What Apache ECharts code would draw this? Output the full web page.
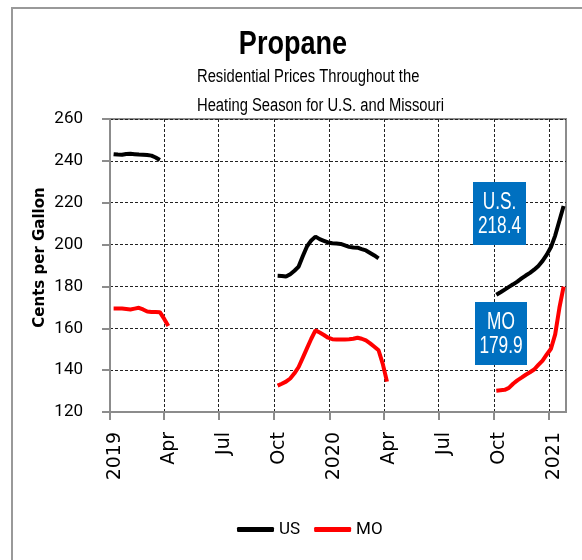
<!DOCTYPE html>
<html>
<head>
<meta charset="utf-8">
<script src="https://cdn.jsdelivr.net/npm/echarts@6/dist/echarts.min.js"></script>
<style>
  html, body { margin: 0; padding: 0; background: #fff; }
  #chart { width: 582px; height: 560px; }
</style>
</head>
<body>
<div id="chart"></div>
<script>
// weekly heating season dates
const season1Dates = ['2019-01-07','2019-01-14','2019-01-21','2019-01-28','2019-02-04','2019-02-11','2019-02-18',
  '2019-02-25','2019-03-04','2019-03-11','2019-03-18','2019-03-25','2019-04-01','2019-04-08']
const season2Dates = ['2019-10-07','2019-10-14','2019-10-21','2019-10-28','2019-11-04','2019-11-11','2019-11-18',
  '2019-11-25','2019-12-02','2019-12-09','2019-12-16','2019-12-23','2019-12-30','2020-01-06','2020-01-13',
  '2020-01-20','2020-01-27','2020-02-03','2020-02-10','2020-02-17','2020-02-24','2020-03-02','2020-03-09',
  '2020-03-16','2020-03-23','2020-03-30','2020-04-06']
const season3Dates = ['2020-10-05','2020-10-12','2020-10-19','2020-10-26','2020-11-02','2020-11-09','2020-11-16',
  '2020-11-23','2020-11-30','2020-12-07','2020-12-14','2020-12-21','2020-12-28','2021-01-04','2021-01-11',
  '2021-01-18','2021-01-25']

// cents per gallon
const usSeason1 = [243.2, 243.0, 242.9, 243.3, 243.4, 243.2, 243.0, 242.9, 242.8, 242.5, 241.6, 240.4]
const moSeason1 = [169.5, 169.5, 169.4, 169.2, 169.0, 169.4, 169.8, 169.0, 168.0, 167.8, 167.8, 167.7, 164.6, 161.1]
const usSeason2 = [185.1, 185.0, 184.7, 185.8, 187.5, 189.5, 194.5, 199.2, 202.0, 203.8, 202.6, 201.8, 201.0,
  200.6, 200.5, 200.3, 199.6, 198.9, 198.6, 198.5, 197.8, 197.2, 196.0, 194.8, 193.4]
const moSeason2 = [132.6, 133.5, 134.5, 136.0, 138.5, 141.5, 146.0, 150.5, 155.0, 159.0, 158.0, 156.8, 155.5,
  154.8, 154.7, 154.7, 154.7, 154.8, 155.0, 155.5, 155.0, 154.2, 152.8, 151.2, 149.5, 143.0, 134.5]
const usSeason3 = [176.0, 177.2, 178.5, 179.8, 181.0, 182.3, 183.8, 185.2, 186.5, 188.0, 189.8, 192.2, 195.2,
  198.8, 204.3, 211.4, 218.4]
const moSeason3 = [130.2, 130.4, 130.6, 131.5, 133.5, 135.1, 136.4, 137.8, 139.0, 140.3, 142.5, 144.6, 147.5,
  150.2, 157.1, 169.7, 179.9]

const tickDates = ['2019-01-01','2019-04-01','2019-07-01','2019-10-01','2020-01-01','2020-04-01','2020-07-01','2020-10-01','2021-01-01']
const tickLabels = ['2019','Apr','Jul','Oct','2020','Apr','Jul','Oct','2021']
const axisStart = '2019-01-01'
const axisEnd = '2021-01-29'

const sans = "'Liberation Sans', Arial, sans-serif"

const ts = d => new Date(d).getTime()

function zip(dates, vals) {
  return vals.map((v, i) => [ts(dates[i]), v])
}

function lineSeries(name, color, data) {
  return {
    name: name,
    type: 'line',
    data: data,
    showSymbol: false,
    lineStyle: { color: color, width: 4 },
    itemStyle: { color: color },
    z: 3
  }
}

const usLast = usSeason3[usSeason3.length - 1]
const moLast = moSeason3[moSeason3.length - 1]
const tickValues = tickDates.map(ts)

let myChart = echarts.init(document.getElementById('chart'))
myChart.setOption({
  animation: false,
  legend: {
    data: ['US', 'MO'],
    left: 232, top: 516,
    icon: 'roundRect',
    itemWidth: 37, itemHeight: 5, itemGap: 14,
    textStyle: { fontFamily: 'Roboto', fontSize: 17, color: '#000' }
  },
  grid: {
    left: 110, right: 16, top: 119, bottom: 148,
    show: true, borderColor: '#8c8c8c', borderWidth: 2
  },
  xAxis: {
    type: 'value',
    min: ts(axisStart), max: ts(axisEnd),
    axisLine: { lineStyle: { color: '#8c8c8c', width: 2 } },
    axisTick: { show: true, length: 8, customValues: tickValues, lineStyle: { color: '#8c8c8c', width: 2 } },
    axisLabel: {
      customValues: tickValues,
      rotate: 90, margin: 20, verticalAlign: 'top', lineHeight: 10,
      fontFamily: 'DejaVu Sans', fontSize: 19, color: '#000',
      formatter: v => tickLabels[tickValues.indexOf(v)]
    },
    splitLine: { show: true, lineStyle: { color: '#222', width: 1, type: [3, 2] } }
  },
  yAxis: {
    type: 'value',
    min: 120, max: 260, interval: 20,
    name: 'Cents per Gallon',
    nameLocation: 'middle', nameGap: 62, nameMoveOverlap: false,
    nameTextStyle: { fontFamily: 'DejaVu Sans', fontWeight: 'bold', fontSize: 15, color: '#000', padding: [0, 0, 0, 16] },
    axisLine: { show: true, lineStyle: { color: '#8c8c8c', width: 2 } },
    axisTick: { show: true, length: 8, lineStyle: { color: '#8c8c8c', width: 2 } },
    axisLabel: { margin: 27, fontFamily: 'Roboto', fontSize: 17, color: '#000' },
    splitLine: { show: true, lineStyle: { color: '#222', width: 1, type: [3, 2] } }
  },
  graphic: [
    { type: 'rect', shape: { x: 12, y: 8, width: 620, height: 620 }, style: { fill: null, stroke: '#999', lineWidth: 2 }, silent: true },
    // title and subtitle, narrowed like the original font
    { type: 'text', x: 293, y: 45, scaleX: 0.82,
      style: { text: 'Propane', fill: '#000', font: 'bold 33px ' + sans, align: 'center', verticalAlign: 'middle' } },
    { type: 'text', x: 197, y: 62.5, scaleX: 0.82,
      style: { text: 'Residential Prices Throughout the\nHeating Season for U.S. and Missouri', fill: '#000',
        font: '18px ' + sans, lineHeight: 29, align: 'left', verticalAlign: 'top' } },
    // end-value callouts
    { type: 'rect', shape: { x: 473, y: 182, width: 53, height: 63 }, style: { fill: '#0070c0' }, z: 10 },
    { type: 'text', x: 499.5, y: 214, scaleX: 0.72, z: 11,
      style: { text: 'U.S.\n' + usLast.toFixed(1), fill: '#fff', font: '24px ' + sans, lineHeight: 24, align: 'center', verticalAlign: 'middle' } },
    { type: 'rect', shape: { x: 475, y: 302, width: 52, height: 63 }, style: { fill: '#0070c0' }, z: 10 },
    { type: 'text', x: 501, y: 334.5, scaleX: 0.72, z: 11,
      style: { text: 'MO\n' + moLast.toFixed(1), fill: '#fff', font: '24px ' + sans, lineHeight: 24, align: 'center', verticalAlign: 'middle' } }
  ],
  series: [
    lineSeries('US', '#000', zip(season1Dates, usSeason1)),
    lineSeries('US', '#000', zip(season2Dates, usSeason2)),
    lineSeries('US', '#000', zip(season3Dates, usSeason3)),
    lineSeries('MO', '#ff0000', zip(season1Dates, moSeason1)),
    lineSeries('MO', '#ff0000', zip(season2Dates, moSeason2)),
    lineSeries('MO', '#ff0000', zip(season3Dates, moSeason3))
  ]
})
</script>
</body>
</html>
